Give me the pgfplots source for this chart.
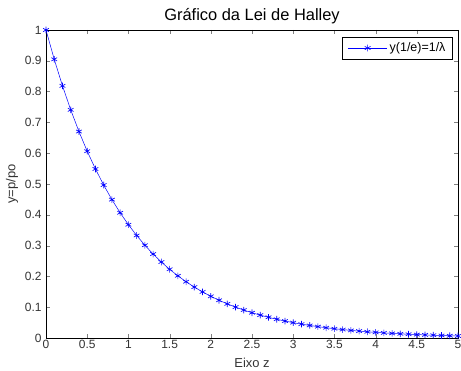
\documentclass[border=0pt]{standalone}
\usepackage{pgfplots}
\pgfplotsset{compat=1.18}
\usepackage{fontspec}
\setmainfont{Liberation Sans}
\begin{document}
\begin{tikzpicture}
\useasboundingbox (-46bp,-33bp) rectangle (415bp,338bp);
\begin{axis}[
  at={(0,0)}, anchor=south west,
  scale only axis,
  width=412bp, height=308bp,
  xmin=0, xmax=5, ymin=0, ymax=1,
  xtick={0,0.5,...,5}, ytick={0,0.1,...,1},
  xticklabels={0,0.5,1,1.5,2,2.5,3,3.5,4,4.5,5},
  yticklabels={0,0.1,0.2,0.3,0.4,0.5,0.6,0.7,0.8,0.9,1},
  tick align=inside, tick pos=both,
  major tick length=4.5bp,
  /pgf/number format/assume math mode=true,
  tick label style={font=\fontsize{12}{14}\selectfont, text=black!80},
  xticklabel style={yshift=1bp},
  yticklabel style={xshift=-1bp},
  label style={font=\fontsize{13}{15}\selectfont, text=black!80},
  xlabel={Eixo z}, ylabel={y=p/po},
  xlabel style={at={([yshift=-25bp]axis description cs:0.5,0)}, anchor=center},
  ylabel style={at={([xshift=-34bp]axis description cs:0,0.5)}, anchor=center},
  title={Gráfico da Lei de Halley},
  every axis title shift=0pt,
  title style={font=\fontsize{16.5}{18}\selectfont, at={([yshift=14bp]axis description cs:0.5,1)}, anchor=center},
  axis line style={black, line width=0.5pt},
  legend style={at={(0.987,0.977)}, anchor=north east, font=\fontsize{12.5}{14}\selectfont, draw=black, inner xsep=5bp, inner ysep=3.5bp, legend cell align=left},
  legend image code/.code={\draw[mark repeat=2,mark phase=2] plot coordinates {(0cm,0cm) (0.7cm,0cm) (1.4cm,0cm)};},
]
\addplot[blue, line width=0.5pt, mark=asterisk, mark size=3.3bp, mark options={line width=0.65pt}] coordinates {
(0,1) (0.1,0.9048) (0.2,0.8187) (0.3,0.7408) (0.4,0.6703) (0.5,0.6065)
(0.6,0.5488) (0.7,0.4966) (0.8,0.4493) (0.9,0.4066) (1.0,0.3679)
(1.1,0.3329) (1.2,0.3012) (1.3,0.2725) (1.4,0.2466) (1.5,0.2231)
(1.6,0.2019) (1.7,0.1827) (1.8,0.1653) (1.9,0.1496) (2.0,0.1353)
(2.1,0.1225) (2.2,0.1108) (2.3,0.1003) (2.4,0.0907) (2.5,0.0821)
(2.6,0.0743) (2.7,0.0672) (2.8,0.0608) (2.9,0.0550) (3.0,0.0498)
(3.1,0.0450) (3.2,0.0408) (3.3,0.0369) (3.4,0.0334) (3.5,0.0302)
(3.6,0.0273) (3.7,0.0247) (3.8,0.0224) (3.9,0.0202) (4.0,0.0183)
(4.1,0.0166) (4.2,0.0150) (4.3,0.0136) (4.4,0.0123) (4.5,0.0111)
(4.6,0.0101) (4.7,0.0091) (4.8,0.0082) (4.9,0.0074) (5.0,0.0067)
};
\addlegendentry{y(1/e)=1/λ}
\end{axis}
\end{tikzpicture}
\end{document}
